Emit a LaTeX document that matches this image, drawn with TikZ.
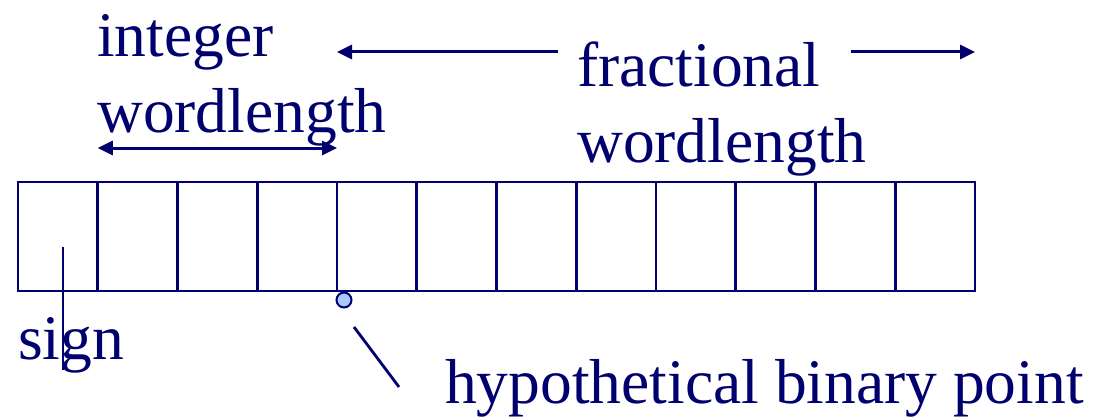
\documentclass[tikz,border=0pt]{standalone}
\usepackage{fontspec}
\setmainfont{Liberation Serif}
\usepackage{tikz}
\usetikzlibrary{arrows.meta,positioning,calc}
\definecolor{regnavy}{RGB}{0,0,110}
\definecolor{pointblue}{RGB}{170,200,250}
\tikzset{
  cellbox/.style={draw=regnavy,line width=2.8pt,minimum width=79.75pt,minimum height=109pt,
    inner sep=0pt,outer sep=0pt,anchor=north west},
  wordlabel/.style={text=regnavy,font=\fontsize{63.5}{76}\selectfont,inner sep=0pt,
    anchor=base west,align=left},
  spanarrow/.style={draw=regnavy,line width=3pt,-{Triangle[length=15pt,width=14pt]}},
  pointerline/.style={draw=regnavy,line width=2.8pt}
}
\begin{document}
\begin{tikzpicture}[x=1pt,y=-1pt]
  \useasboundingbox (0,0) rectangle (1098,420);
  % the register, twelve bits
  \foreach \i in {0,...,11}
    \node[cellbox] (c\i) at ({18+79.75*\i},182) {};
  % labels
  \node[wordlabel] (intlbl) at (97,132) {integer\\wordlength};
  \node[wordlabel] (fraclbl) at (577,162) {fractional\\wordlength};
  \node[wordlabel] (signlbl) at (18,359) {sign};
  \node[wordlabel] (pointlbl) at (445,403) {hypothetical binary point};
  % span arrows
  \coordinate (fracgapL) at (558,52);
  \coordinate (fracgapR) at (851,52);
  \coordinate (intwordL) at (c1.north west |- 0,148);
  \coordinate (intwordR) at (c4.north west |- 0,148);
  \draw[spanarrow] (fracgapL) -- (c4.north west |- fracgapL);
  \draw[spanarrow] (fracgapR) -- (c11.north east |- fracgapR);
  \draw[spanarrow,{Triangle[length=15pt,width=14pt]}-{Triangle[length=15pt,width=14pt]}] (intwordL) -- (intwordR);
  % sign marker
  \coordinate (signtop) at (63,247);
  \coordinate (signend) at (63,370);
  \draw[pointerline] (signtop) -- (signend);
  % binary point
  \node[circle,draw=regnavy,fill=pointblue,line width=2pt,minimum size=15pt,inner sep=0pt] (bpoint) at (344,300) {};
  \coordinate (pointA) at (354,327);
  \coordinate (pointB) at (399,387);
  \draw[pointerline] (pointA) -- (pointB);
\end{tikzpicture}
\end{document}
